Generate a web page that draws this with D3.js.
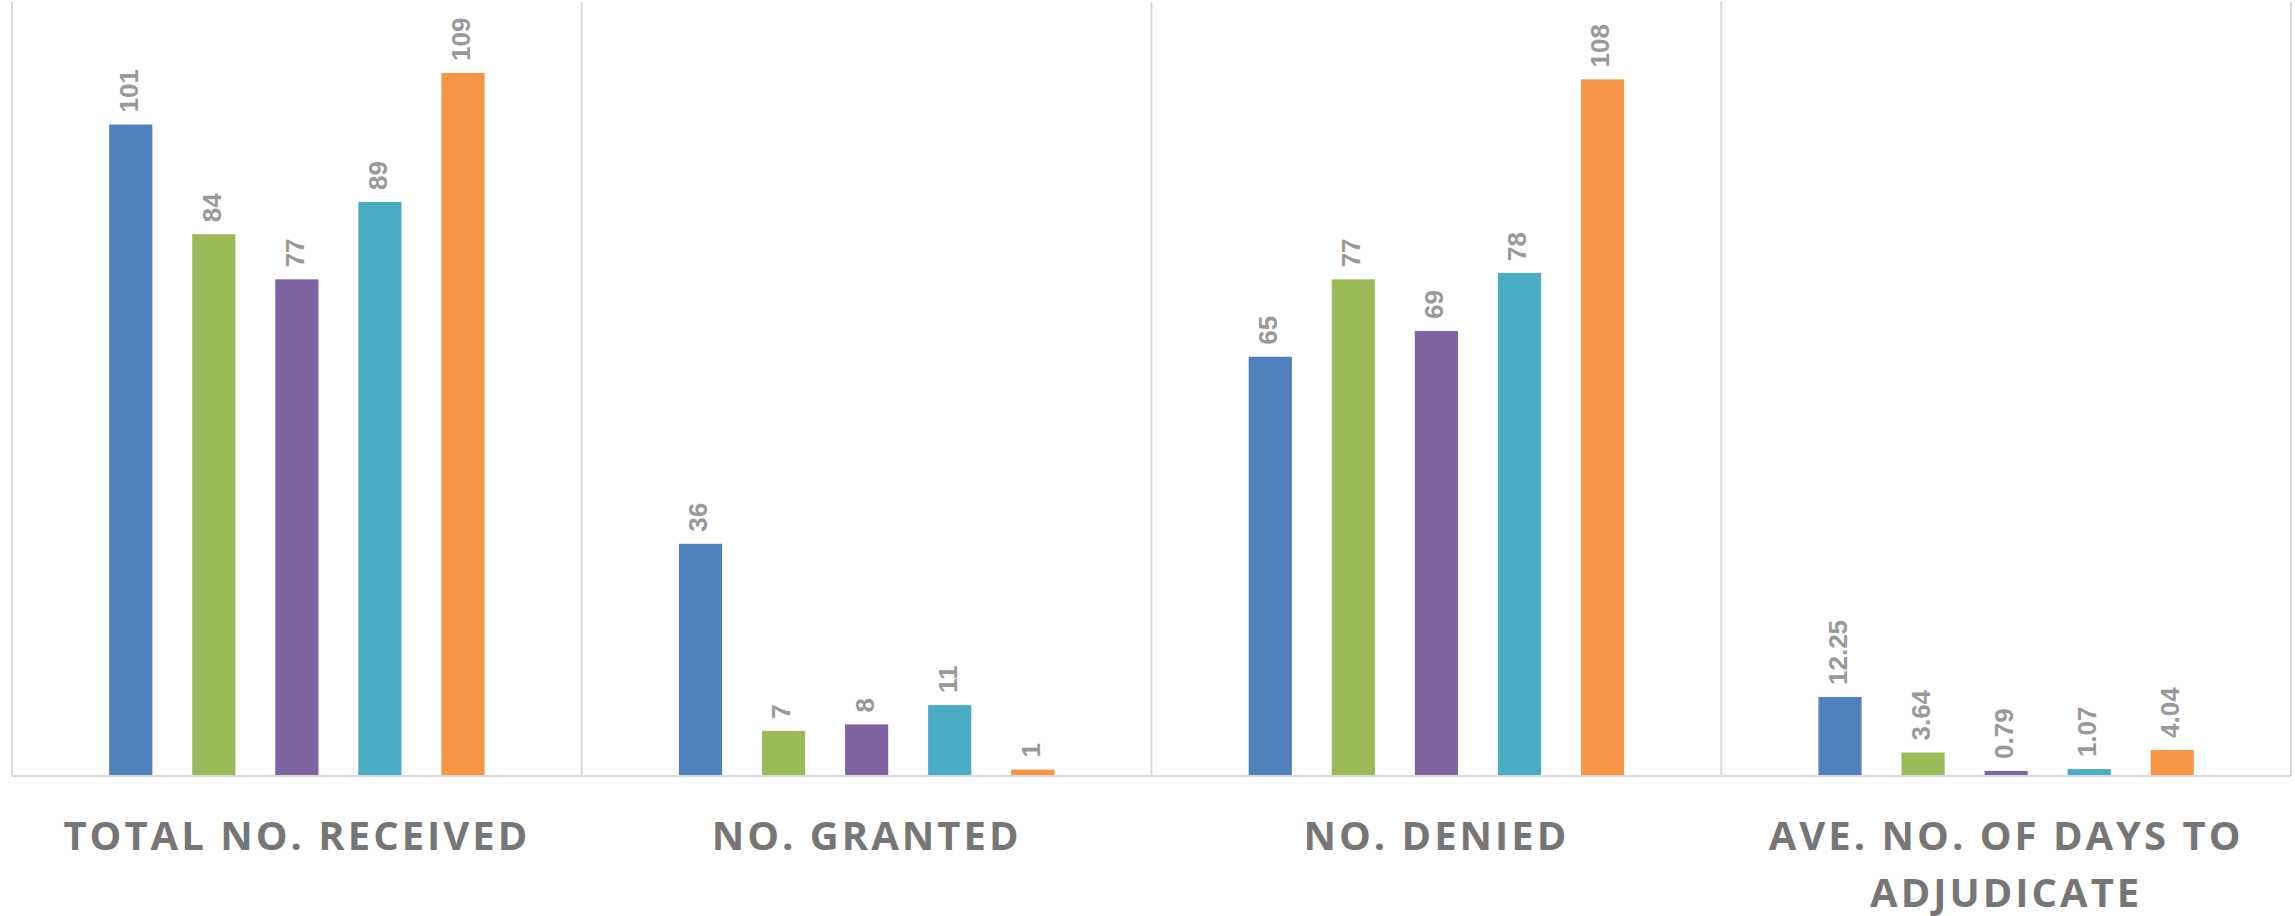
<!DOCTYPE html>
<html>
<head>
<meta charset="utf-8">
<script src="https://cdn.jsdelivr.net/npm/d3@7"></script>
<style>
  html, body { margin: 0; padding: 0; background: #ffffff; }
  svg { display: block; }
</style>
</head>
<body>
<svg id="chart" width="2295" height="916"></svg>
<script>
// ---- data ----
const categories = ["TOTAL NO. RECEIVED", "NO. GRANTED", "NO. DENIED", "AVE. NO. OF DAYS TO ADJUDICATE"];
const seriesNames = ["Series 1", "Series 2", "Series 3", "Series 4", "Series 5"];
const series1 = [101, 36, 65, 12.25];
const series2 = [84, 7, 77, 3.64];
const series3 = [77, 8, 69, 0.79];
const series4 = [89, 11, 78, 1.07];
const series5 = [109, 1, 108, 4.04];
const seriesColors = ["#4f81bd", "#9bbb59", "#8064a2", "#4bacc6", "#f79646"];
const yDomain = [0, 120];

const allSeries = [series1, series2, series3, series4, series5];

// ---- layout ----
const plot = { left: 12, right: 2291, top: 2, bottom: 776 };

const svg = d3.select("#chart");

const x0 = d3.scaleBand()
  .domain(categories)
  .range([plot.left, plot.right])
  .paddingInner(0).paddingOuter(0);

const x1 = d3.scaleBand()
  .domain(seriesNames)
  .range([0, x0.bandwidth()])
  .paddingInner(0.48)
  .paddingOuter(1.17);

const y = d3.scaleLinear().domain(yDomain).range([plot.bottom, plot.top]);

const gridColor = "#d9d9d9";

// vertical dividers (category boundaries)
const boundaries = categories.map(c => x0(c)).concat([x0(categories[categories.length - 1]) + x0.bandwidth()]);
svg.append("g").selectAll("line")
  .data(boundaries)
  .join("line")
  .attr("x1", d => d).attr("x2", d => d)
  .attr("y1", plot.top).attr("y2", plot.bottom)
  .attr("stroke", gridColor).attr("stroke-width", 2);

// bars
const groups = svg.append("g").selectAll("g")
  .data(categories)
  .join("g")
  .attr("transform", c => `translate(${x0(c)},0)`);

groups.each(function(c, ci) {
  const g = d3.select(this);
  const vals = allSeries.map((s, si) => ({ name: seriesNames[si], value: s[ci], color: seriesColors[si] }));
  g.selectAll("rect")
    .data(vals)
    .join("rect")
    .attr("x", d => x1(d.name))
    .attr("width", x1.bandwidth())
    .attr("y", d => y(d.value))
    .attr("height", d => y(0) - y(d.value))
    .attr("fill", d => d.color);

  g.selectAll("text.val")
    .data(vals)
    .join("text")
    .attr("class", "val")
    .attr("transform", d => `translate(${x1(d.name) + x1.bandwidth() / 2},${y(d.value) - 12}) rotate(-90)`)
    .attr("text-anchor", "start")
    .attr("dominant-baseline", "middle")
    .attr("font-family", "'Liberation Sans', Arial, sans-serif")
    .attr("font-weight", "bold")
    .attr("font-size", 26)
    .attr("fill", "#999999")
    .text(d => String(d.value));
});

// baseline
svg.append("line")
  .attr("x1", plot.left).attr("x2", plot.right)
  .attr("y1", plot.bottom).attr("y2", plot.bottom)
  .attr("stroke", gridColor).attr("stroke-width", 2);

// category labels with wrapping
const labelG = svg.append("g");
const maxLabelWidth = x0.bandwidth() - 40;
categories.forEach(c => {
  const cx = x0(c) + x0.bandwidth() / 2;
  const t = labelG.append("text")
    .attr("x", cx)
    .attr("y", 850)
    .attr("text-anchor", "middle")
    .attr("font-family", "'Open Sans', 'DejaVu Sans', sans-serif")
    .attr("font-weight", "bold")
    .attr("font-size", 40)
    .attr("letter-spacing", 3)
    .attr("fill", "#767676");
  const words = c.split(" ");
  let line = [];
  let tspan = t.append("tspan").attr("x", cx).attr("dy", 0);
  words.forEach(w => {
    line.push(w);
    tspan.text(line.join(" "));
    if (tspan.node().getComputedTextLength() > maxLabelWidth && line.length > 1) {
      line.pop();
      tspan.text(line.join(" "));
      line = [w];
      tspan = t.append("tspan").attr("x", cx).attr("dy", 57).text(w);
    }
  });
});
</script>
</body>
</html>
